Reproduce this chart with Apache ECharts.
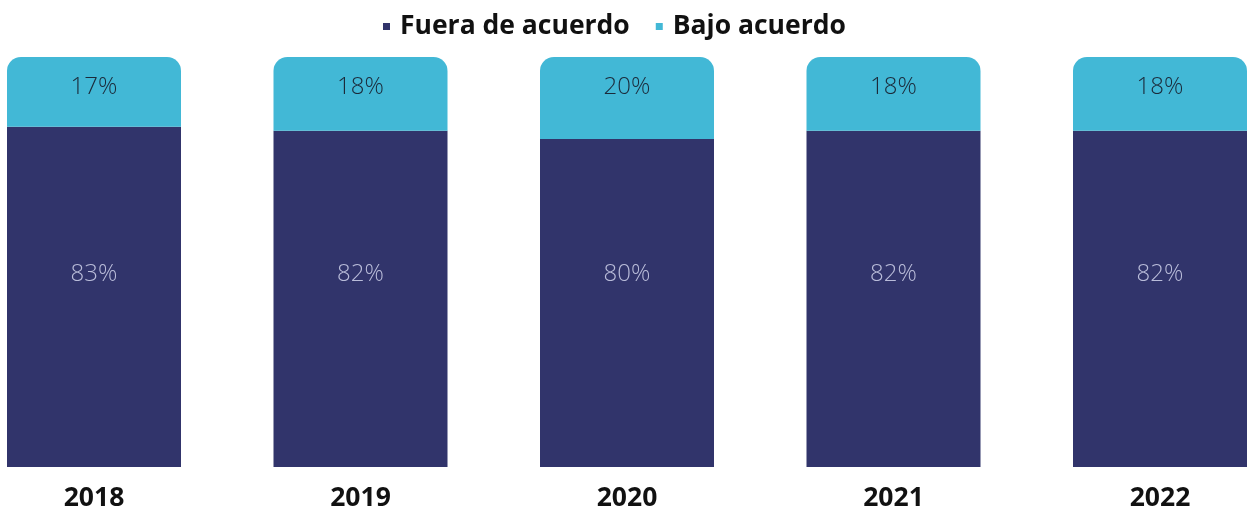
<!DOCTYPE html>
<html><head><meta charset="utf-8">
<script src="https://cdn.jsdelivr.net/npm/echarts@6/dist/echarts.min.js"></script>
<style>html,body{margin:0;padding:0;background:#fff}#c{width:1253px;height:509px}</style>
</head><body><div id="c"></div>
<script>
const categories = ['2018','2019','2020','2021','2022'];
const fuera = [83, 82, 80, 82, 82];
const bajo = [17, 18, 20, 18, 18];
const seriesNames = ['Fuera de acuerdo', 'Bajo acuerdo'];

const chart = echarts.init(document.getElementById('c'));
chart.setOption({
  animation: false,
  legend: {
    top: 8, left: 378, itemWidth: 7, itemHeight: 7, itemGap: 26,
    icon: 'rect',
    textStyle: { fontFamily: 'Open Sans', fontWeight: 'bold', fontSize: 26.5, color: '#111', padding: [0, 0, 0, 5] },
    data: seriesNames
  },
  grid: { left: 94, right: 93, top: 57, bottom: 42, outerBoundsMode: 'none', containLabel: false },
  xAxis: {
    type: 'category', data: categories, boundaryGap: false,
    axisLine: { show: false }, axisTick: { show: false },
    axisLabel: { fontFamily: 'Open Sans', fontWeight: 'bold', fontSize: 26.5, color: '#111', margin: 18 }
  },
  yAxis: { type: 'value', min: 0, max: 100, show: false, splitLine: { show: false } },
  series: [
    {
      name: seriesNames[0], type: 'bar', stack: 't', data: fuera, barWidth: 174,
      itemStyle: { color: '#31346b' },
      label: { show: true, position: 'insideBottom', distance: 181, formatter: '{c}%', fontFamily: 'Open Sans', fontWeight: 300, fontSize: 24, color: '#b9bcd9' }
    },
    {
      name: seriesNames[1], type: 'bar', stack: 't', data: bajo, barWidth: 174,
      itemStyle: { color: '#42b8d6', borderRadius: [14, 14, 0, 0] },
      label: { show: true, position: 'insideTop', distance: 18, formatter: '{c}%', fontFamily: 'Open Sans', fontWeight: 300, fontSize: 24, color: '#1b2a3a' }
    }
  ]
});
</script></body></html>
